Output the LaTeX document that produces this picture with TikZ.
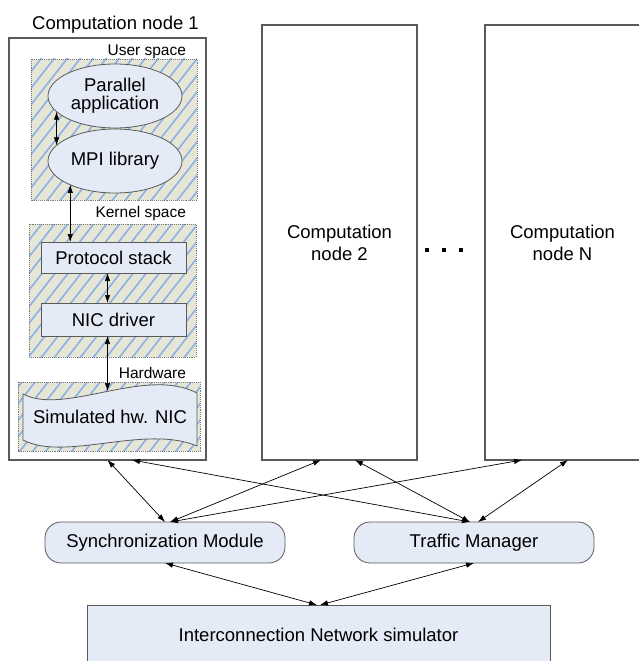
\documentclass[tikz,border=0pt]{standalone}
\usepackage{fontspec}
\setmainfont{Liberation Sans}
\usepackage{xcolor}
\usepackage{tikz}
\usetikzlibrary{shapes.geometric,arrows.meta}

\definecolor{nodefill}{HTML}{E4EAF6}
\definecolor{hatchbg}{HTML}{E6E6D6}
\definecolor{hatchline}{HTML}{8CB0E6}
\definecolor{boxline}{HTML}{5A5A5A}

% hatched area with dotted border
\newcommand{\spacearea}[2]{%
    \fill[hatchbg] #1 rectangle #2;
    \begin{scope}
        \clip #1 rectangle #2;
        \foreach \i in {-23,...,15}
            \draw[hatchline, line width=1.6pt] (13*\i,460) -- ++(360,-460);
    \end{scope}
    \draw[boxline!80, densely dotted, line width=0.9pt] #1 rectangle #2;}

\begin{document}
\begin{tikzpicture}[x=1pt, y=-1pt,
    every node/.style={font=\fontsize{18.5}{22}\selectfont, inner sep=0pt, outer sep=0pt},
    small/.style={font=\fontsize{15.5}{18}\selectfont},
    compbox/.style={draw=boxline, line width=1.1pt, align=center},
    blockbox/.style={draw=boxline, fill=nodefill, line width=0.8pt},
    modbox/.style={blockbox, rounded corners=16pt, minimum width=240pt, minimum height=41pt},
    link/.style={{Latex[length=8pt,width=5.5pt]}-{Latex[length=8pt,width=5.5pt]}, line width=0.7pt}]
    \useasboundingbox (0,0) rectangle (638,661);

    % computation nodes
    \node[anchor=base] (n1title) at (115.5,30) {Computation node 1};
    \node[compbox, minimum width=197pt, minimum height=422pt] (n1) at (107.5,249) {};
    \node[compbox, minimum width=155pt, minimum height=435pt] (n2) at (339.5,242.5) {Computation\\node 2};
    \node[compbox, minimum width=155pt, minimum height=435pt] (nN) at (562.5,242.5) {Computation\\node N};
    \foreach \dx in {-17,0,17}
        \fill (442+\dx,248) rectangle +(4,4);

    % user space
    \node[small, anchor=base east] (userlbl) at (186,56) {User space};
    \spacearea{(31,59)}{(197,200)}
    \node[ellipse, blockbox, minimum width=134pt, minimum height=64pt, align=center,
        font=\fontsize{18.5}{18}\selectfont] (app) at (115,96) {Parallel\\application};
    \node[ellipse, blockbox, minimum width=134pt, minimum height=64pt] (mpi) at (115,161) {MPI library};

    % kernel space
    \node[small, anchor=base east] (kernlbl) at (186,217) {Kernel space};
    \spacearea{(29,224)}{(196,357)}
    \node[blockbox, minimum width=145pt, minimum height=31pt] (proto) at (113.5,257.5) {Protocol stack};
    \node[blockbox, minimum width=145pt, minimum height=33pt] (nic) at (113.5,319.5) {NIC driver};

    % hardware
    \node[small, anchor=base east] (hwlbl) at (186,378) {Hardware};
    \spacearea{(18,382)}{(200,451)}
    \draw[blockbox] (23,394) .. controls (65,416) and (145,366) .. (197,393)
        -- (197,446) .. controls (145,424) and (65,462) .. (23,440) -- cycle;
    \node (hwnic) at (110,417) {Simulated hw. NIC};
    \coordinate (hwtop) at (107.5,391);

    \draw[link] (app.195) -- (mpi.165);
    \draw[link] (mpi.208) -- (mpi.208 |- proto.north);
    \draw[link] ([xshift=-6]proto.south) -- ([xshift=-6]nic.south |- nic.north);
    \draw[link] ([xshift=-6]nic.south) -- (hwtop);

    % modules
    \node[modbox] (sync) at (165,542.5) {Synchronization Module};
    \node[modbox] (tm) at (474,542.5) {Traffic Manager};
    \node[blockbox, minimum width=463pt, minimum height=60pt] (ic) at (318.5,635) {Interconnection Network simulator};

    \draw[link] (n1.south) -- (sync.north);
    \draw[link] ([xshift=24.5]n1.south) -- ([xshift=-4]tm.north);
    \draw[link] ([xshift=-18.5]n2.south) -- ([xshift=5]sync.north);
    \draw[link] ([xshift=15.5]n2.south) -- ([xshift=-4]tm.north);
    \draw[link] ([xshift=-40.5]nN.south) -- ([xshift=5]sync.north);
    \draw[link] ([xshift=5.5]nN.south) -- ([xshift=4]tm.north);
    \draw[link] (sync.south) -- ([xshift=-1.5]ic.north);
    \draw[link] (tm.south) -- ([xshift=1.5]ic.north);
\end{tikzpicture}
\end{document}
